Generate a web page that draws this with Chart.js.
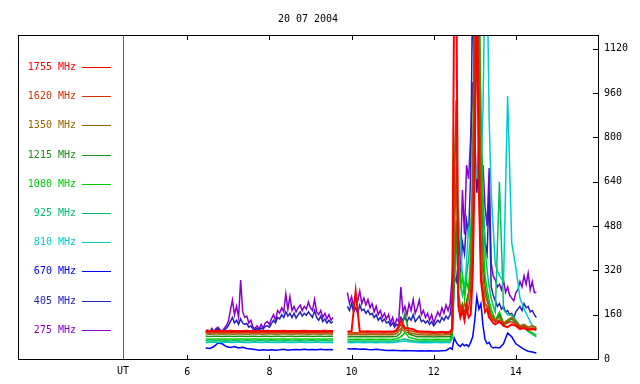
<!DOCTYPE html>
<html>
<head>
<meta charset="utf-8">
<script src="https://cdn.jsdelivr.net/npm/chart.js@4/dist/chart.umd.min.js"></script>
<style>
  html, body { margin: 0; padding: 0; background: #fff; }
</style>
</head>
<body>
<canvas id="spec" width="640" height="384"></canvas>
<script>
const title = '20 07 2004';
const hourTicks = [6, 8, 10, 12, 14];
const fluxTicks = [0, 160, 320, 480, 640, 800, 960, 1120];
const utMark = 4.44;

// legend order, top to bottom
const bands = ['1755 MHz', '1620 MHz', '1350 MHz', '1215 MHz', '1080 MHz', '925 MHz', '810 MHz', '670 MHz', '405 MHz', '275 MHz'];
const bandColors = ['#ff0000', '#cc3300', '#996600', '#1f8a1f', '#00cc00', '#00c070', '#00cccc', '#0000ff', '#2222bb', '#8800cc'];

// coarse time grid (hours UT), null row at 9.7 = data gap
const tCoarse = [
  6.45,6.55,6.65,6.75,6.85,6.95,7.05,7.15,7.25,7.35,7.45,7.55,7.65,7.75,7.85,7.95,
  8.05,8.15,8.25,8.35,8.45,8.55,8.65,8.75,8.85,8.95,9.05,9.15,9.25,9.35,9.45,9.55,
  9.7,
  9.9,10.0,10.1,10.2,10.3,10.4,10.5,10.6,10.7,10.8,10.9,11.0,11.1,11.2,11.3,11.4,11.5,
  11.6,11.7,11.8,11.9,12.0,12.1,12.2,12.3,12.4,
  12.45,12.5,12.55,12.6,12.65,12.7,12.75,12.8,12.85,12.9,12.95,13.0,13.05,13.1,13.15,13.2,
  13.25,13.3,13.35,13.4,13.45,
  13.5,13.6,13.7,13.8,13.9,14.0,14.1,14.2,14.3,14.4,14.5
];

const f1755 = [
  102,101,101,102,101,101,102,101,101,101,102,101,101,101,101,102,
  101,101,101,102,101,101,101,101,102,101,101,101,101,102,101,101,
  null,
  99,99,245,99,99,100,99,99,99,98,99,99,104,140,112,110,108,100,99,98,98,97,97,98,97,98,
  110,1400,1400,190,150,175,140,185,150,160,300,700,1400,600,285,220,170,180,150,140,130,
  125,135,120,115,125,120,108,112,105,108,106
];
const f1620 = [
  96,95,96,95,95,96,95,95,96,95,95,95,96,95,95,95,
  96,95,95,95,96,95,95,95,95,96,95,95,95,96,95,95,
  null,
  94,94,95,94,94,95,94,94,94,95,94,94,100,125,105,102,100,95,94,94,94,93,94,94,93,94,
  105,600,935,220,170,190,160,200,180,240,400,1400,1400,900,320,250,200,190,170,150,140,
  135,140,125,130,135,125,115,118,110,112,110
];
const f1350 = [
  90,89,90,90,89,90,90,89,90,90,89,90,90,90,89,90,
  90,89,90,90,90,89,90,90,90,89,90,90,89,90,90,89,
  null,
  88,88,89,88,88,88,89,88,88,88,88,88,92,110,98,95,92,88,88,87,88,87,88,87,88,88,
  100,400,700,240,190,170,200,180,230,300,600,1400,1400,1400,450,300,230,210,180,160,150,
  140,150,130,140,150,135,120,125,115,120,115
];
const f1215 = [
  82,81,82,82,81,82,82,81,82,82,81,82,82,81,82,82,
  81,82,82,81,82,82,81,82,82,82,81,82,82,81,82,82,
  null,
  80,80,81,80,80,80,81,80,80,80,80,80,82,95,166,90,85,80,80,80,80,79,80,80,80,80,
  90,300,500,220,180,200,160,210,240,280,500,900,1400,1087,600,350,260,220,190,160,150,
  135,160,125,135,145,130,115,120,110,110,105
];
const f1080 = [
  72,71,72,72,71,72,72,71,72,72,71,72,72,71,72,72,
  71,72,72,72,71,72,72,71,72,72,71,72,72,71,72,72,
  null,
  71,70,71,71,70,71,71,70,71,71,70,71,73,80,95,78,74,71,70,71,70,70,71,70,70,71,
  85,640,930,400,260,300,220,280,250,380,700,1400,1400,1400,800,450,300,250,210,180,160,
  140,170,130,140,150,130,110,115,100,95,85
];
const f925 = [
  66,65,66,66,65,66,65,66,66,65,66,66,65,66,66,65,
  66,66,65,66,66,65,66,66,65,66,66,65,66,66,65,66,
  null,
  65,64,65,65,64,65,65,64,65,65,64,65,66,70,72,68,66,65,64,65,64,65,65,64,65,65,
  80,300,450,350,280,230,260,300,360,450,650,900,1100,1400,900,600,400,320,260,220,190,
  170,640,180,160,160,140,120,115,100,90,80
];
const f810 = [
  60,60,61,60,60,61,60,60,61,60,60,60,61,60,60,61,
  60,60,60,61,60,60,60,61,60,60,60,61,60,60,60,60,
  null,
  60,59,60,60,59,60,60,59,60,60,59,60,61,63,65,62,61,60,59,60,59,60,60,59,60,60,
  75,250,400,540,420,300,250,350,480,420,600,700,650,800,700,900,1400,1400,870,600,470,
  340,300,280,950,420,330,220,180,150,120,110
];
const f670 = [
  40,38,45,58,55,45,42,45,40,42,38,36,34,32,33,32,
  33,32,33,35,32,33,34,33,35,33,34,33,35,33,34,33,
  null,
  37,36,37,35,36,34,33,35,33,32,31,32,31,30,31,30,30,29,30,29,30,29,29,30,31,40,
  35,76,60,50,45,55,48,52,45,60,80,140,225,180,200,120,70,55,60,45,40,
  42,40,55,94,80,55,45,35,28,25,22
];

// fine time grid for the two noisy low bands
const tFine = [
  6.45,6.5,6.55,6.6,6.65,6.7,6.75,6.8,6.85,6.9,6.95,7.0,7.05,7.1,7.15,7.2,7.25,7.3,
  7.35,7.4,7.45,7.5,7.55,7.6,7.65,7.7,7.75,7.8,7.85,7.9,7.95,8.0,8.05,8.1,8.15,8.2,
  8.25,8.3,8.35,8.4,8.45,8.5,8.55,8.6,8.65,8.7,8.75,8.8,8.85,8.9,8.95,9.0,9.05,9.1,
  9.15,9.2,9.25,9.3,9.35,9.4,9.45,9.5,9.55,
  9.7,
  9.9,9.95,10.0,10.05,10.1,10.15,10.2,10.25,10.3,10.35,
  10.4,10.45,10.5,10.55,10.6,10.65,10.7,10.75,10.8,10.85,
  10.9,10.95,11.0,11.05,11.1,11.15,11.2,11.25,11.3,11.35,
  11.4,11.45,11.5,11.55,11.6,11.65,11.7,11.75,11.8,11.85,
  11.9,11.95,12.0,12.05,12.1,12.15,12.2,12.25,12.3,12.35,
  12.4,12.45,12.5,12.55,12.6,12.65,12.7,12.75,12.8,12.85,
  12.9,12.95,13.0,13.05,13.1,13.15,13.2,13.25,13.3,13.35,
  13.4,13.45,13.5,13.55,13.6,13.65,13.7,13.75,13.8,13.85,
  13.9,13.95,14.0,14.05,14.1,14.15,14.2,14.25,14.3,14.35,
  14.4,14.45,14.5
];

const f405 = [
  100,105,95,110,100,105, 110,100,98,105,110,120, 135,150,130,140,125,145,
  130,125,128,115,120,108, 105,110,102,112,108,118, 120,115,128,140,130,150,
  145,160,150,170,155,165, 150,165,148,160,170,155, 165,158,170,160,150,175,
  150,140,155,135,145,130, 140,130,135,
  null,
  190,175,200,170,185,165,195,175,180,165,
  175,160,165,150,160,140,150,135,145,130,
  135,120,130,115,125,120,150,140,150,135,
  150,140,160,135,145,155,135,140,130,138,
  125,135,120,130,140,132,150,140,155,145,
  160,220,300,280,350,300,420,380,500,450,
  665,1400,800,600,700,500,550,420,380,600,
  260,230,210,190,200,180,190,170,175,160,
  165,150,170,180,190,175,200,185,190,170,
  175,160,150
];
const f275 = [
  95,100,92,105,98,110, 115,105,100,110,120,135, 175,213,160,190,150,285,
  170,150,155,130,140,115, 110,120,108,125,112,130, 135,125,145,160,140,175,
  165,185,170,235,180,225, 175,190,170,185,195,175, 190,180,206,185,175,215,
  170,160,175,150,165,145, 160,140,150,
  null,
  240,200,225,190,230,210,245,200,220,195,
  215,185,200,170,190,160,175,150,165,145,
  160,130,150,120,145,135,260,170,190,160,
  200,175,215,165,185,213,160,175,150,165,
  140,160,130,150,170,155,185,165,195,175,
  200,300,450,380,480,340,610,450,700,650,
  800,1000,750,1400,720,650,700,550,480,690,
  345,300,285,260,270,250,285,240,260,230,
  220,210,240,250,280,260,300,270,310,250,
  280,240,240
];

const seriesValues = [f1755, f1620, f1350, f1215, f1080, f925, f810, f670, f405, f275];
const seriesTimes = [tCoarse, tCoarse, tCoarse, tCoarse, tCoarse, tCoarse, tCoarse, tCoarse, tFine, tFine];

const monoFont = { family: 'DejaVu Sans Mono', size: 10 };

const datasets = bands.map((name, i) => ({
  label: name,
  data: seriesTimes[i].map((t, k) => ({ x: t, y: seriesValues[i][k] })),
  borderColor: bandColors[i],
  borderWidth: i === 0 ? 2 : 1.5,
  pointRadius: 0,
  tension: 0,
  spanGaps: false
}));

const framePlugin = {
  id: 'frame',
  beforeDatasetsDraw(chart) {
    const { ctx, chartArea: a, scales: { x } } = chart;
    const ux = Math.round(x.getPixelForValue(utMark)) + 0.5;
    ctx.save();
    ctx.strokeStyle = '#666';
    ctx.lineWidth = 1;
    ctx.beginPath();
    ctx.moveTo(ux, a.top);
    ctx.lineTo(ux, a.bottom);
    ctx.stroke();
    ctx.restore();
  },
  afterDraw(chart) {
    const { ctx, chartArea: a, scales: { x, y } } = chart;
    ctx.save();
    ctx.strokeStyle = '#000';
    ctx.lineWidth = 1;
    ctx.strokeRect(a.left + 0.5, a.top + 0.5, a.right - a.left, a.bottom - a.top);
    ctx.beginPath();
    hourTicks.forEach(v => {
      const px = Math.round(x.getPixelForValue(v)) + 0.5;
      ctx.moveTo(px, a.top);
      ctx.lineTo(px, a.top + 5);
      ctx.moveTo(px, a.bottom);
      ctx.lineTo(px, a.bottom - 4);
    });
    fluxTicks.forEach(v => {
      const py = Math.round(y.getPixelForValue(v)) + 0.5;
      ctx.moveTo(a.right, py);
      ctx.lineTo(a.right - 5, py);
    });
    ctx.stroke();

    ctx.font = '10px "DejaVu Sans Mono"';
    ctx.fillStyle = '#000';
    ctx.textAlign = 'center';
    ctx.textBaseline = 'middle';
    ctx.fillText(title, 308, 19);
    ctx.fillText('UT', Math.round(x.getPixelForValue(utMark)), 371);

    // legend
    bands.forEach((name, i) => {
      const ly = Math.round(67 + i * 29.2) + 0.5;
      ctx.strokeStyle = bandColors[i];
      ctx.beginPath();
      ctx.moveTo(82, ly);
      ctx.lineTo(111, ly);
      ctx.stroke();
      ctx.fillStyle = bandColors[i];
      ctx.textAlign = 'right';
      ctx.fillText(name, 76, ly);
    });
    ctx.restore();
  }
};

new Chart(document.getElementById('spec'), {
  type: 'line',
  data: { datasets },
  options: {
    responsive: false,
    animation: false,
    events: [],
    layout: { padding: { left: 18, top: 35, right: 0, bottom: 0 } },
    plugins: { legend: { display: false }, tooltip: { enabled: false }, title: { display: false } },
    scales: {
      x: {
        type: 'linear',
        min: 1.88,
        max: 16,
        grid: { display: false, drawTicks: false },
        border: { display: false },
        afterBuildTicks: s => { s.ticks = hourTicks.map(v => ({ value: v })); },
        afterFit: s => { s.height = 25; },
        ticks: { font: monoFont, color: '#000', padding: 7, maxRotation: 0, autoSkip: false }
      },
      y: {
        position: 'right',
        min: 0,
        max: 1170,
        grid: { display: false, drawTicks: false },
        border: { display: false },
        afterBuildTicks: s => { s.ticks = fluxTicks.map(v => ({ value: v })); },
        afterFit: s => { s.width = 42; },
        ticks: { font: monoFont, color: '#000', padding: 6, callback: v => String(v) }
      }
    }
  },
  plugins: [framePlugin]
});
</script>
</body>
</html>
